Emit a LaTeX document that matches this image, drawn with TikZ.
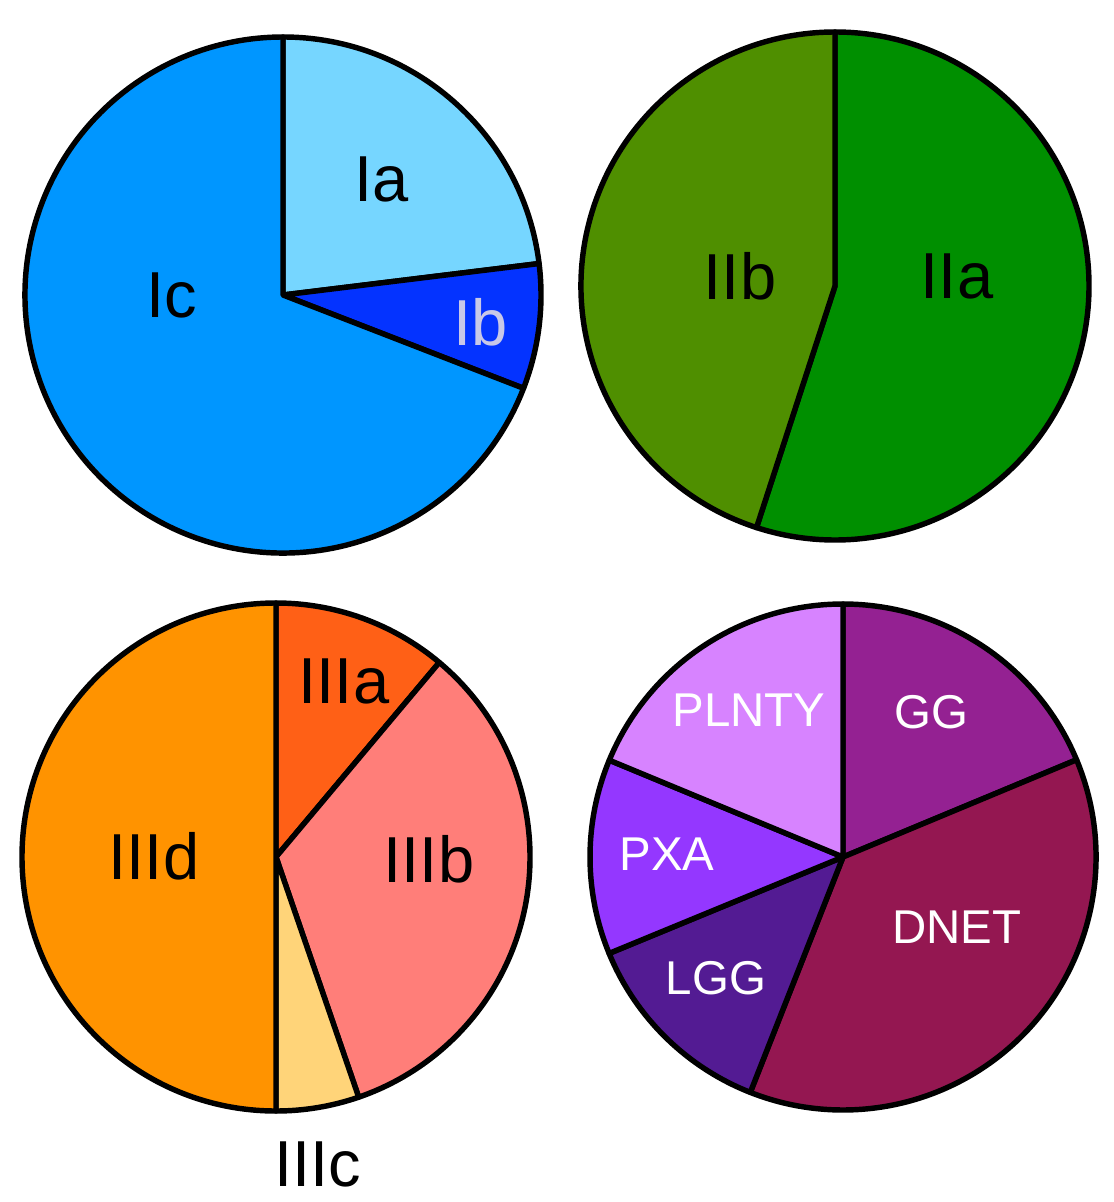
\documentclass[tikz,border=0pt]{standalone}
\usepackage{fontspec}
\setmainfont{Liberation Sans}
\usepackage{tikz}

\definecolor{iacol}{RGB}{118,214,255}
\definecolor{ibcol}{RGB}{4,51,255}
\definecolor{iccol}{RGB}{0,150,255}
\definecolor{ibtext}{RGB}{200,200,232}
\definecolor{iiacol}{RGB}{0,143,0}
\definecolor{iibcol}{RGB}{79,143,0}
\definecolor{iiiacol}{RGB}{255,96,22}
\definecolor{iiibcol}{RGB}{255,126,121}
\definecolor{iiiccol}{RGB}{255,212,121}
\definecolor{iiidcol}{RGB}{255,147,0}
\definecolor{ggcol}{RGB}{148,33,146}
\definecolor{dnetcol}{RGB}{148,23,81}
\definecolor{lggcol}{RGB}{83,27,147}
\definecolor{pxacol}{RGB}{148,55,255}
\definecolor{plntycol}{RGB}{215,131,255}

\begin{document}
\begin{tikzpicture}[x=0.02cm, y=0.02cm,
    slice/.style={draw=black, line width=3.1pt, line join=round},
    biglabel/.style={font=\fontsize{37}{40}\selectfont},
    smalllabel/.style={font=\fontsize{27}{30}\selectfont, text=white}]
    \useasboundingbox (0,0) rectangle (1113,-1202);
    % pie I
    \foreach \a/\b/\c in {90/7/iacol, 7/-21.2/ibcol, -21.2/-270/iccol} % edit here for the slices
    \filldraw[slice, fill=\c, shift={(283,-295)}] (0,0) -- (\a:258) arc (\a:\b:258) -- cycle;
    % pie II
    \foreach \a/\b/\c in {90/-108/iiacol, -108/-270/iibcol}
    \filldraw[slice, fill=\c, shift={(835,-286)}] (0,0) -- (\a:254) arc (\a:\b:254) -- cycle;
    % pie III
    \foreach \a/\b/\c in {90/50/iiiacol, 50/-71/iiibcol, -71/-90/iiiccol, -90/-270/iiidcol}
    \filldraw[slice, fill=\c, shift={(276,-857)}] (0,0) -- (\a:254) arc (\a:\b:254) -- cycle;
    % pie IV
    \foreach \a/\b/\c in {90/22.6/ggcol, 22.6/-111.5/dnetcol, -111.5/-157.6/lggcol,
        -157.6/-202.5/pxacol, -202.5/-270/plntycol}
    \filldraw[slice, fill=\c, shift={(843,-857)}] (0,0) -- (\a:253) arc (\a:\b:253) -- cycle;

    \foreach \x/\y/\z in {
        382/-179/Ia,
        172/-295/Ic,
        740/-276/IIb,
        957/-276/IIa,
        344/-681/IIIa,
        154/-856/IIId,
        429/-859/IIIb,
        318/-1164/IIIc} % edit here for the labels
    \node[biglabel] (\z) at (\x,\y) {\z};
    \node[biglabel, text=ibtext] (Ib) at (481,-322) {Ib};
    \foreach \x/\y/\z in {
        749/-710/PLNTY,
        931/-712/GG,
        667/-854/PXA,
        957/-927/DNET,
        716/-978/LGG}
    \node[smalllabel] (\z) at (\x,\y) {\z};
\end{tikzpicture}
\end{document}
